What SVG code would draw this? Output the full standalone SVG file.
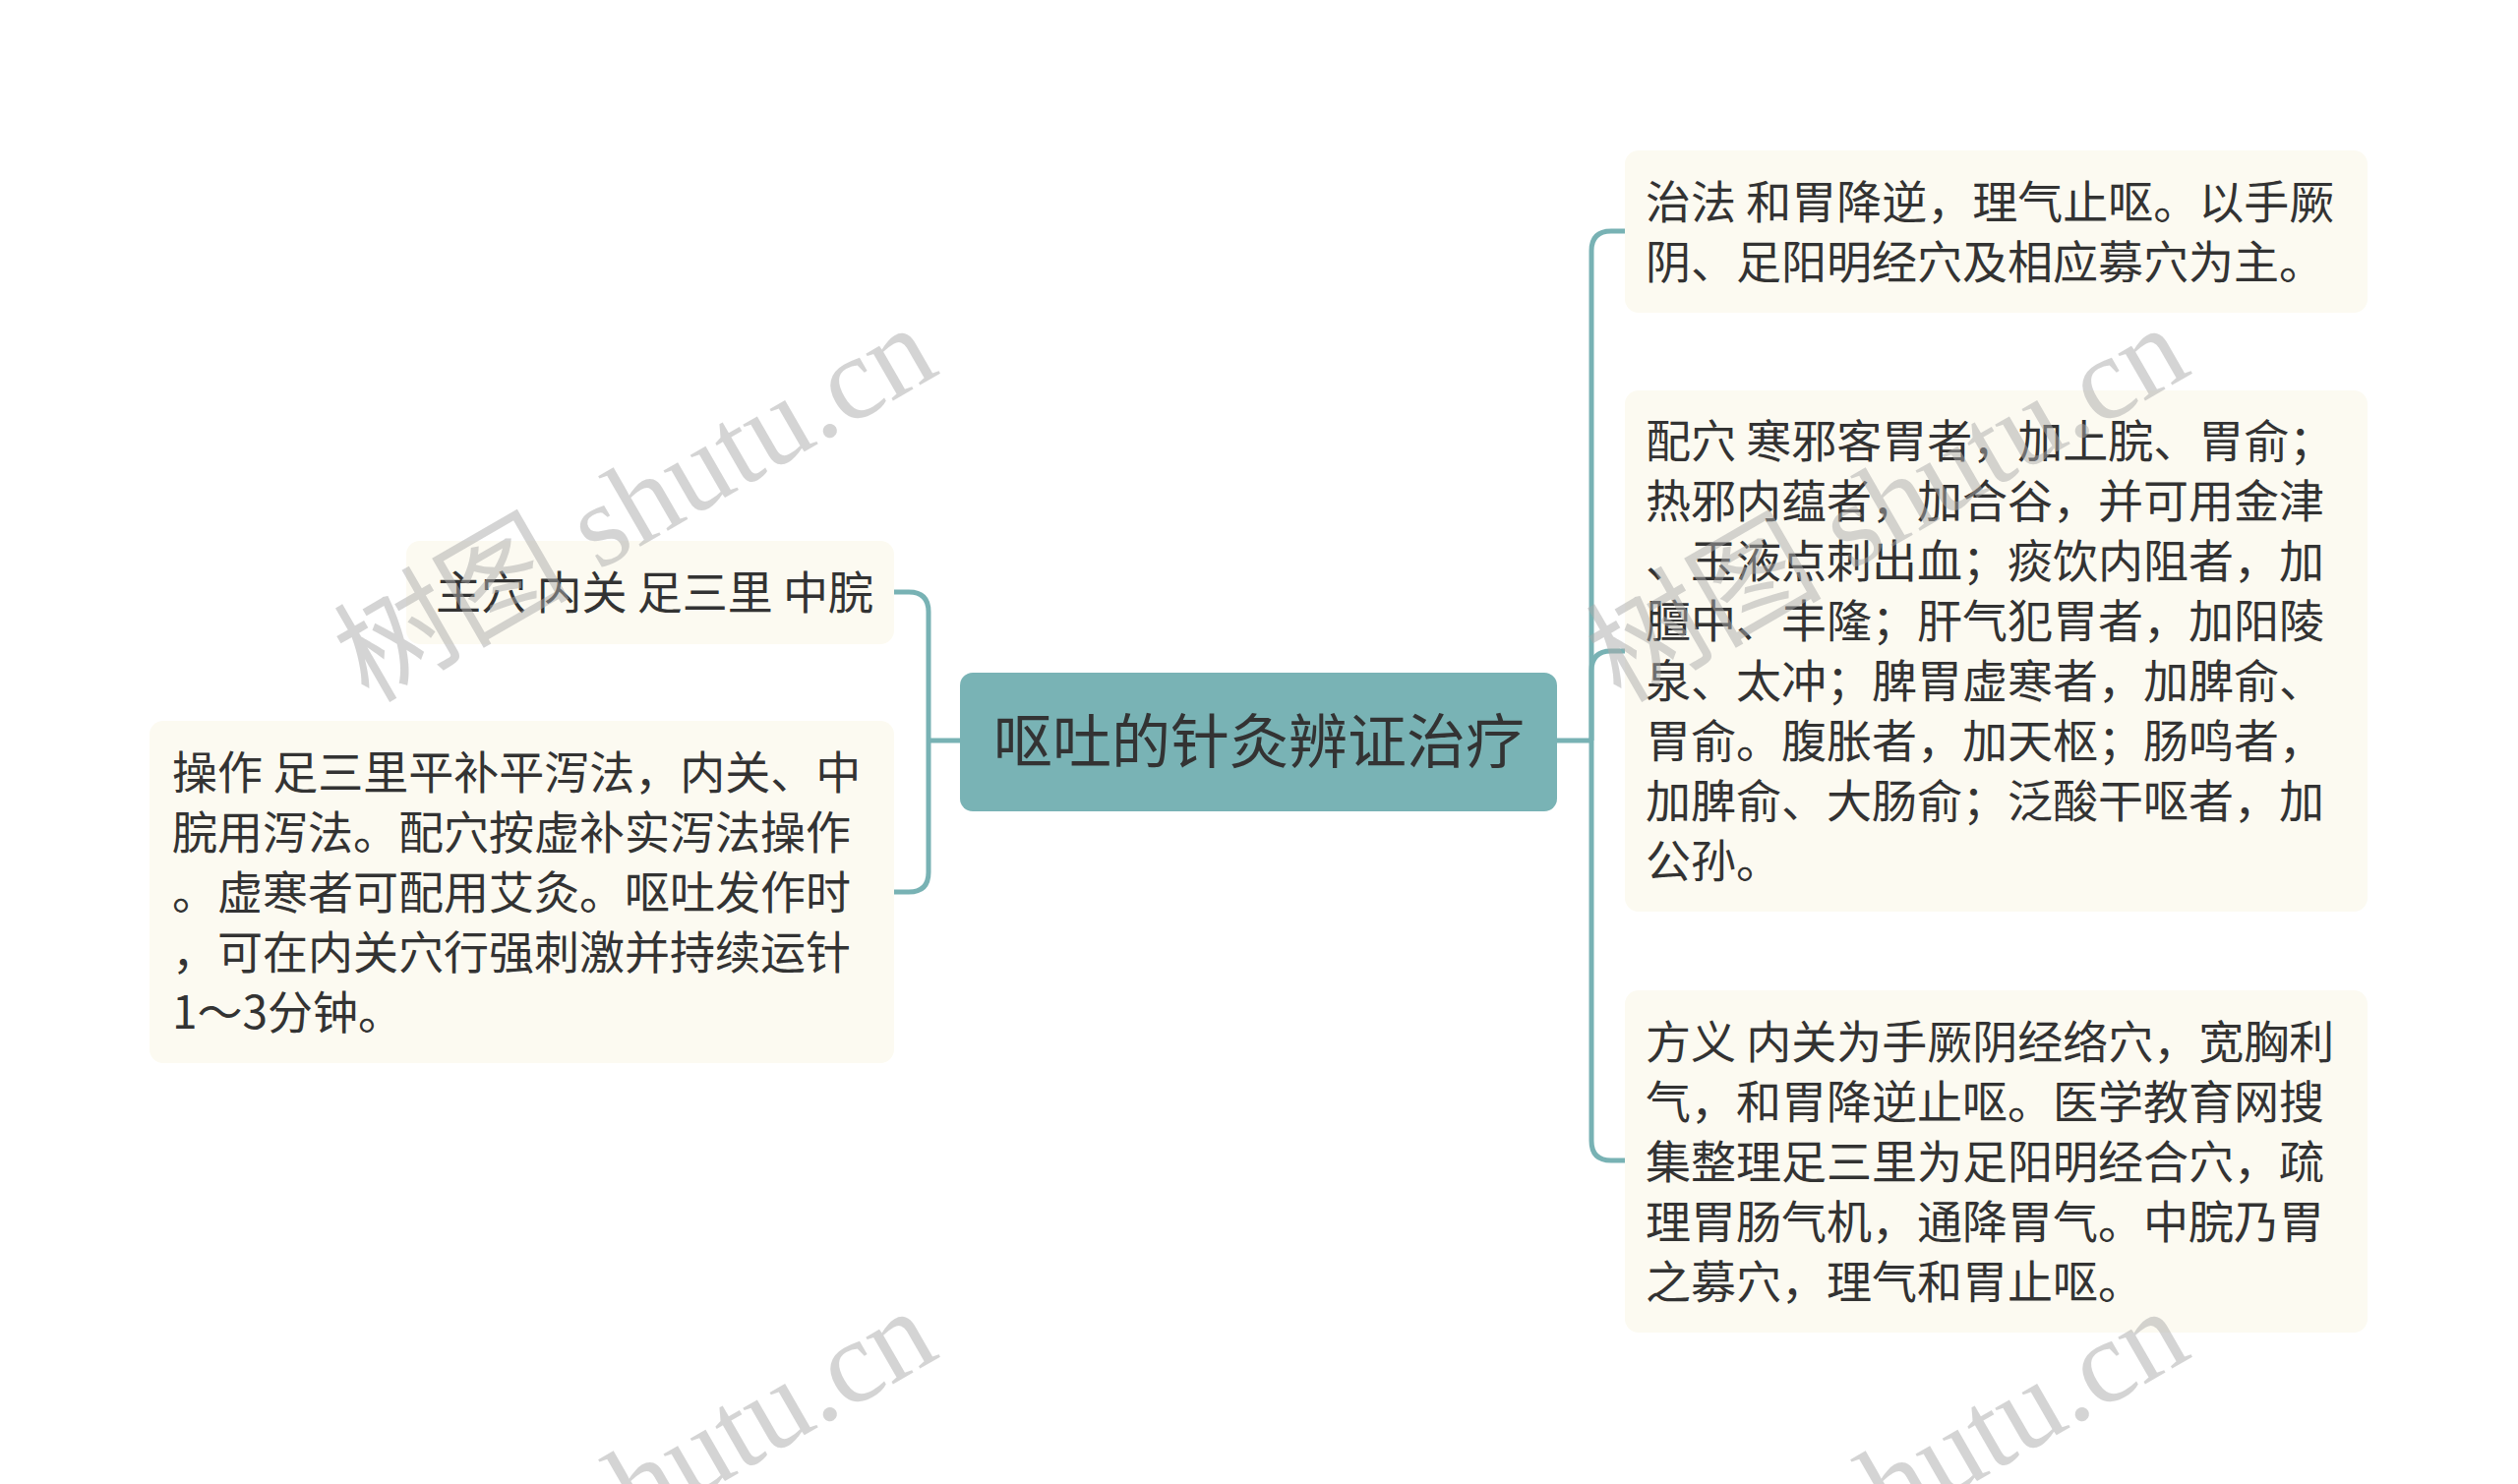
<svg xmlns="http://www.w3.org/2000/svg" width="2560" height="1509" viewBox="0 0 2560 1509">
<style>
.leaf{fill:#fcfaf1}
.root{fill:#79b3b5}
.t{font-family:"Noto Sans CJK SC","Noto Sans",sans-serif;font-size:46px;fill:#333}
.rt{font-family:"Noto Sans CJK SC","Noto Sans",sans-serif;font-size:60px;fill:#333}
.c{fill:none;stroke:#78b2b4;stroke-width:5}
.wm{font-family:"Liberation Serif","Noto Sans CJK SC",serif;font-size:120px;fill:#aaa;fill-opacity:0.5}
</style>
<rect width="2560" height="1509" fill="#fff"/>
<g id="connectors">
<path class="c" d="M976,753 H944"/>
<path class="c" d="M944,753 V622 Q944,602 924,602 H908"/>
<path class="c" d="M944,753 V887 Q944,907 924,907 H908"/>
<path class="c" d="M1583,753 H1618"/>
<path class="c" d="M1618,753 V255 Q1618,235 1638,235 H1652"/>
<path class="c" d="M1618,753 V682 Q1618,662 1638,662 H1652"/>
<path class="c" d="M1618,753 V1160 Q1618,1180 1638,1180 H1652"/>
</g>
<g id="root">
<rect class="root" x="976" y="684" width="607" height="141" rx="13"/>
<text class="rt" x="1280" y="776" text-anchor="middle">呕吐的针灸辨证治疗</text>
</g>
<g id="node-zhuxue">
<rect class="leaf" x="413" y="550" width="496" height="105" rx="14"/>
<text class="t" x="888" y="619" text-anchor="end">主穴 内关 足三里 中脘</text>
</g>
<g id="node-caozuo">
<rect class="leaf" x="152" y="733" width="757" height="348" rx="14"/>
<text class="t">
<tspan x="175" y="802">操作 足三里平补平泻法，内关、中</tspan>
<tspan x="175" y="863">脘用泻法。配穴按虚补实泻法操作</tspan>
<tspan x="175" y="924">。虚寒者可配用艾灸。呕吐发作时</tspan>
<tspan x="175" y="985">，可在内关穴行强刺激并持续运针</tspan>
<tspan x="175" y="1046">1～3分钟。</tspan>
</text>
</g>
<g id="node-zhifa">
<rect class="leaf" x="1652" y="153" width="755" height="165" rx="14"/>
<text class="t">
<tspan x="1673" y="222">治法 和胃降逆，理气止呕。以手厥</tspan>
<tspan x="1673" y="283">阴、足阳明经穴及相应募穴为主。</tspan>
</text>
</g>
<g id="node-peixue">
<rect class="leaf" x="1652" y="397" width="755" height="530" rx="14"/>
<text class="t">
<tspan x="1673" y="465">配穴 寒邪客胃者，加上脘、胃俞；</tspan>
<tspan x="1673" y="526">热邪内蕴者，加合谷，并可用金津</tspan>
<tspan x="1673" y="587">、玉液点刺出血；痰饮内阻者，加</tspan>
<tspan x="1673" y="648">膻中、丰隆；肝气犯胃者，加阳陵</tspan>
<tspan x="1673" y="709">泉、太冲；脾胃虚寒者，加脾俞、</tspan>
<tspan x="1673" y="770">胃俞。腹胀者，加天枢；肠鸣者，</tspan>
<tspan x="1673" y="831">加脾俞、大肠俞；泛酸干呕者，加</tspan>
<tspan x="1673" y="892">公孙。</tspan>
</text>
</g>
<g id="node-fangyi">
<rect class="leaf" x="1652" y="1007" width="755" height="348" rx="14"/>
<text class="t">
<tspan x="1673" y="1076">方义 内关为手厥阴经络穴，宽胸利</tspan>
<tspan x="1673" y="1137">气，和胃降逆止呕。医学教育网搜</tspan>
<tspan x="1673" y="1198">集整理足三里为足阳明经合穴，疏</tspan>
<tspan x="1673" y="1259">理胃肠气机，通降胃气。中脘乃胃</tspan>
<tspan x="1673" y="1320">之募穴，理气和胃止呕。</tspan>
</text>
</g>
<g id="watermarks">
<text class="wm" transform="translate(655,528) rotate(-30)" x="0" y="22" text-anchor="middle">树图 shutu.cn</text>
<text class="wm" transform="translate(1928,528) rotate(-30)" x="0" y="22" text-anchor="middle">树图 shutu.cn</text>
<text class="wm" transform="translate(655,1528) rotate(-30)" x="0" y="22" text-anchor="middle">树图 shutu.cn</text>
<text class="wm" transform="translate(1928,1528) rotate(-30)" x="0" y="22" text-anchor="middle">树图 shutu.cn</text>
</g>
</svg>
